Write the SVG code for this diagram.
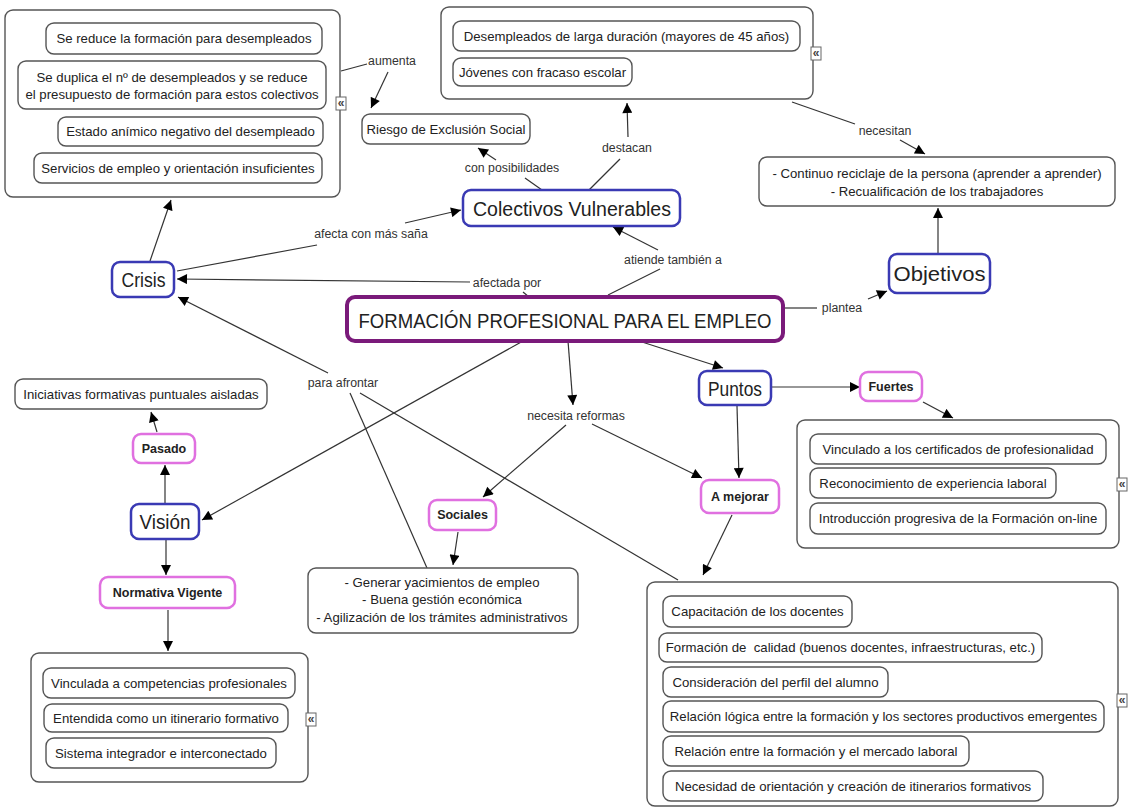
<svg xmlns="http://www.w3.org/2000/svg" width="1129" height="810" viewBox="0 0 1129 810">
  <defs>
    <marker id="ah" viewBox="0 0 10 10" refX="10" refY="5" markerWidth="11" markerHeight="10" markerUnits="userSpaceOnUse" orient="auto">
      <path d="M0,0 L10,5 L0,10 z" fill="#000"/>
    </marker>
    <style>
      .box { fill:#fff; stroke:#555; stroke-width:1.4; }
      .blue { fill:#fff; stroke:#3a3ab4; stroke-width:2.5; }
      .pink { fill:#fff; stroke:#e070e0; stroke-width:2.5; }
      .main { fill:#fff; stroke:#7a1a7a; stroke-width:4; }
      .icon { fill:#fff; stroke:#666; stroke-width:1; }
      text { font-family:"Liberation Sans", Arial, sans-serif; fill:#222; text-anchor:middle; dominant-baseline:central; }
      .t { font-size:13.2px; }
      .lbl { font-size:12.3px; fill:#333; }
      .b { font-size:12.5px; font-weight:bold; }
      .big { font-size:20px; }
      .ic { font-size:12px; font-weight:bold; fill:#444; }
      #connectors line { stroke:#333; stroke-width:1.2; fill:none; }
      #connectors line.a { marker-end:url(#ah); }
    </style>
  </defs>

  <rect width="1129" height="810" fill="#fff"/>

  <!-- connectors -->
  <g id="connectors">
    <line x1="341" y1="71" x2="367" y2="64"/>
    <line class="a" x1="388" y1="72" x2="371" y2="108"/>
    <line x1="542" y1="190" x2="525" y2="178"/>
    <line class="a" x1="496" y1="160" x2="478" y2="148"/>
    <line x1="589" y1="190" x2="620" y2="159"/>
    <line class="a" x1="628" y1="137" x2="627" y2="103"/>
    <line x1="792" y1="102" x2="855" y2="124"/>
    <line class="a" x1="900" y1="140" x2="925" y2="154"/>
    <line class="a" x1="938" y1="253" x2="938" y2="208"/>
    <line x1="785" y1="308" x2="817" y2="308"/>
    <line class="a" x1="868" y1="299" x2="887" y2="291"/>
    <line class="a" x1="150" y1="261" x2="171" y2="200"/>
    <line x1="177" y1="271" x2="317" y2="245"/>
    <line class="a" x1="405" y1="223" x2="461" y2="210"/>
    <line x1="608" y1="295" x2="660" y2="269"/>
    <line class="a" x1="658" y1="250" x2="613" y2="227"/>
    <line x1="529" y1="297" x2="523" y2="292"/>
    <line class="a" x1="470" y1="282" x2="177" y2="279"/>
    <line class="a" x1="328" y1="373" x2="178" y2="297"/>
    <line x1="427" y1="568" x2="350" y2="393"/>
    <line x1="678" y1="580" x2="360" y2="393"/>
    <line class="a" x1="523" y1="341" x2="202" y2="520"/>
    <line class="a" x1="568" y1="341" x2="573" y2="405"/>
    <line class="a" x1="566" y1="425" x2="483" y2="497"/>
    <line class="a" x1="592" y1="424" x2="702" y2="478"/>
    <line class="a" x1="642" y1="342" x2="723" y2="368"/>
    <line class="a" x1="772" y1="387" x2="860" y2="387"/>
    <line class="a" x1="923" y1="402" x2="953" y2="418"/>
    <line class="a" x1="737" y1="406" x2="739" y2="478"/>
    <line class="a" x1="732" y1="515" x2="703" y2="575"/>
    <line class="a" x1="458" y1="532" x2="453" y2="565"/>
    <line class="a" x1="165" y1="503" x2="165" y2="465"/>
    <line class="a" x1="157" y1="432" x2="151" y2="412"/>
    <line class="a" x1="166" y1="540" x2="166" y2="575"/>
    <line class="a" x1="168" y1="610" x2="168" y2="651"/>
  </g>

  <!-- linking phrases -->
  <g id="labels">
    <text class="lbl" x="392" y="61">aumenta</text>
    <text class="lbl" x="512" y="168">con posibilidades</text>
    <text class="lbl" x="627" y="148">destacan</text>
    <text class="lbl" x="885" y="131">necesitan</text>
    <text class="lbl" x="371" y="234">afecta con más saña</text>
    <text class="lbl" x="673" y="260">atiende también a</text>
    <text class="lbl" x="507" y="283">afectada por</text>
    <text class="lbl" x="842" y="308">plantea</text>
    <text class="lbl" x="343" y="383">para afrontar</text>
    <text class="lbl" x="576" y="416">necesita reformas</text>
  </g>

  <!-- Crisis consequences -->
  <g id="crisis-efectos">
    <rect class="box" x="5" y="10" width="335" height="187" rx="8"/>
    <rect class="box" x="46" y="23" width="276" height="31" rx="8"/>
    <text class="t" x="184" y="38.5">Se reduce la formación para desempleados</text>
    <rect class="box" x="18" y="61" width="308" height="48" rx="8"/>
    <text class="t" x="172" y="77">Se duplica el nº de desempleados y se reduce</text>
    <text class="t" x="172" y="94">el presupuesto de formación para estos colectivos</text>
    <rect class="box" x="58" y="117" width="265" height="29" rx="8"/>
    <text class="t" x="190.5" y="131.5">Estado anímico negativo del desempleado</text>
    <rect class="box" x="34" y="153" width="288" height="30" rx="8"/>
    <text class="t" x="178" y="168">Servicios de empleo y orientación insuficientes</text>
    <rect class="icon" x="336" y="97" width="10" height="13"/>
    <text class="ic" x="341" y="103">«</text>
  </g>

  <g id="riesgo">
    <rect class="box" x="362" y="114" width="168" height="30" rx="8"/>
    <text class="t" x="446" y="129">Riesgo de Exclusión Social</text>
  </g>

  <g id="colectivos-lista">
    <rect class="box" x="441" y="7" width="372" height="92" rx="8"/>
    <rect class="box" x="453" y="21" width="347" height="30" rx="8"/>
    <text class="t" x="626.5" y="36">Desempleados de larga duración (mayores de 45 años)</text>
    <rect class="box" x="453" y="58" width="179" height="28" rx="8"/>
    <text class="t" x="542.5" y="72">Jóvenes con fracaso escolar</text>
    <rect class="icon" x="811" y="47" width="10" height="13"/>
    <text class="ic" x="816" y="53">«</text>
  </g>

  <g id="reciclaje">
    <rect class="box" x="759" y="157" width="356" height="49" rx="8"/>
    <text class="t" x="937" y="173.5">- Continuo reciclaje de la persona (aprender a aprender)</text>
    <text class="t" x="937" y="191">- Recualificación de los trabajadores</text>
  </g>

  <g id="objetivos">
    <rect class="blue" x="889" y="254" width="101" height="39" rx="8"/>
    <text class="big" x="939.5" y="273.5" textLength="92" lengthAdjust="spacingAndGlyphs">Objetivos</text>
  </g>

  <g id="colectivos">
    <rect class="blue" x="463" y="190" width="217" height="36" rx="8"/>
    <text class="big" x="572" y="208.5" textLength="198" lengthAdjust="spacingAndGlyphs">Colectivos Vulnerables</text>
  </g>

  <g id="crisis">
    <rect class="blue" x="112" y="262" width="62" height="35" rx="8"/>
    <text class="big" x="143.5" y="280" textLength="44" lengthAdjust="spacingAndGlyphs">Crisis</text>
  </g>

  <g id="formacion">
    <rect class="main" x="347" y="297" width="436" height="44" rx="8"/>
    <text x="565" y="320" style="font-size:21px" textLength="413" lengthAdjust="spacingAndGlyphs">FORMACIÓN PROFESIONAL PARA EL EMPLEO</text>
  </g>

  <g id="puntos">
    <rect class="blue" x="699" y="371" width="72" height="34" rx="8"/>
    <text class="big" x="735" y="388.5" textLength="54" lengthAdjust="spacingAndGlyphs">Puntos</text>
  </g>

  <g id="fuertes">
    <rect class="pink" x="860" y="372" width="62" height="29" rx="8"/>
    <text class="b" x="891" y="386.5">Fuertes</text>
  </g>

  <g id="fuertes-lista">
    <rect class="box" x="797" y="420" width="322" height="128" rx="8"/>
    <rect class="box" x="810" y="434" width="296" height="30" rx="8"/>
    <text class="t" x="958" y="449">Vinculado a los certificados de profesionalidad</text>
    <rect class="box" x="810" y="468" width="246" height="30" rx="8"/>
    <text class="t" x="933" y="483">Reconocimiento de experiencia laboral</text>
    <rect class="box" x="810" y="503" width="296" height="31" rx="8"/>
    <text class="t" x="958" y="518.5">Introducción progresiva de la Formación on-line</text>
    <rect class="icon" x="1117" y="478" width="10" height="13"/>
    <text class="ic" x="1122" y="484">«</text>
  </g>

  <g id="a-mejorar">
    <rect class="pink" x="701" y="480" width="78" height="33" rx="8"/>
    <text class="b" x="740" y="496.5">A mejorar</text>
  </g>

  <g id="mejorar-lista">
    <rect class="box" x="647" y="582" width="471" height="224" rx="8"/>
    <rect class="box" x="663" y="596" width="189" height="31" rx="8"/>
    <text class="t" x="757.5" y="611.5">Capacitación de los docentes</text>
    <rect class="box" x="659" y="633" width="383" height="29" rx="8"/>
    <text class="t" x="850.5" y="647.5" xml:space="preserve">Formación de  calidad (buenos docentes, infraestructuras, etc.)</text>
    <rect class="box" x="663" y="667" width="225" height="30" rx="8"/>
    <text class="t" x="775.5" y="682">Consideración del perfil del alumno</text>
    <rect class="box" x="663" y="701" width="441" height="31" rx="8"/>
    <text class="t" x="883.5" y="716.5">Relación lógica entre la formación y los sectores productivos emergentes</text>
    <rect class="box" x="663" y="736" width="306" height="30" rx="8"/>
    <text class="t" x="816" y="751">Relación entre la formación y el mercado laboral</text>
    <rect class="box" x="663" y="771" width="380" height="30" rx="8"/>
    <text class="t" x="853" y="786">Necesidad de orientación y creación de itinerarios formativos</text>
    <rect class="icon" x="1117" y="694" width="10" height="13"/>
    <text class="ic" x="1122" y="700">«</text>
  </g>

  <g id="sociales">
    <rect class="pink" x="429" y="500" width="67" height="30" rx="8"/>
    <text class="b" x="462.5" y="515">Sociales</text>
  </g>

  <g id="sociales-lista">
    <rect class="box" x="308" y="568" width="270" height="65" rx="8"/>
    <text class="t" x="442" y="582">- Generar yacimientos de empleo</text>
    <text class="t" x="442" y="599.5">- Buena gestión económica</text>
    <text class="t" x="442" y="617">- Agilización de los trámites administrativos</text>
  </g>

  <g id="iniciativas">
    <rect class="box" x="15" y="379" width="252" height="30" rx="8"/>
    <text class="t" x="141" y="394">Iniciativas formativas puntuales aisladas</text>
  </g>

  <g id="pasado">
    <rect class="pink" x="133" y="434" width="62" height="29" rx="8"/>
    <text class="b" x="164" y="448.5">Pasado</text>
  </g>

  <g id="vision">
    <rect class="blue" x="131" y="504" width="68" height="35" rx="8"/>
    <text class="big" x="165" y="521.5" textLength="51" lengthAdjust="spacingAndGlyphs">Visión</text>
  </g>

  <g id="normativa">
    <rect class="pink" x="100" y="577" width="135" height="31" rx="8"/>
    <text class="b" x="167.5" y="592.5">Normativa Vigente</text>
  </g>

  <g id="normativa-lista">
    <rect class="box" x="31" y="653" width="277" height="129" rx="8"/>
    <rect class="box" x="43" y="668" width="252" height="30" rx="8"/>
    <text class="t" x="169" y="683">Vinculada a competencias profesionales</text>
    <rect class="box" x="44" y="704" width="244" height="28" rx="8"/>
    <text class="t" x="166" y="718">Entendida como un itinerario formativo</text>
    <rect class="box" x="46" y="738" width="230" height="30" rx="8"/>
    <text class="t" x="161" y="753">Sistema integrador e interconectado</text>
    <rect class="icon" x="306" y="713" width="10" height="13"/>
    <text class="ic" x="311" y="719">«</text>
  </g>
</svg>
